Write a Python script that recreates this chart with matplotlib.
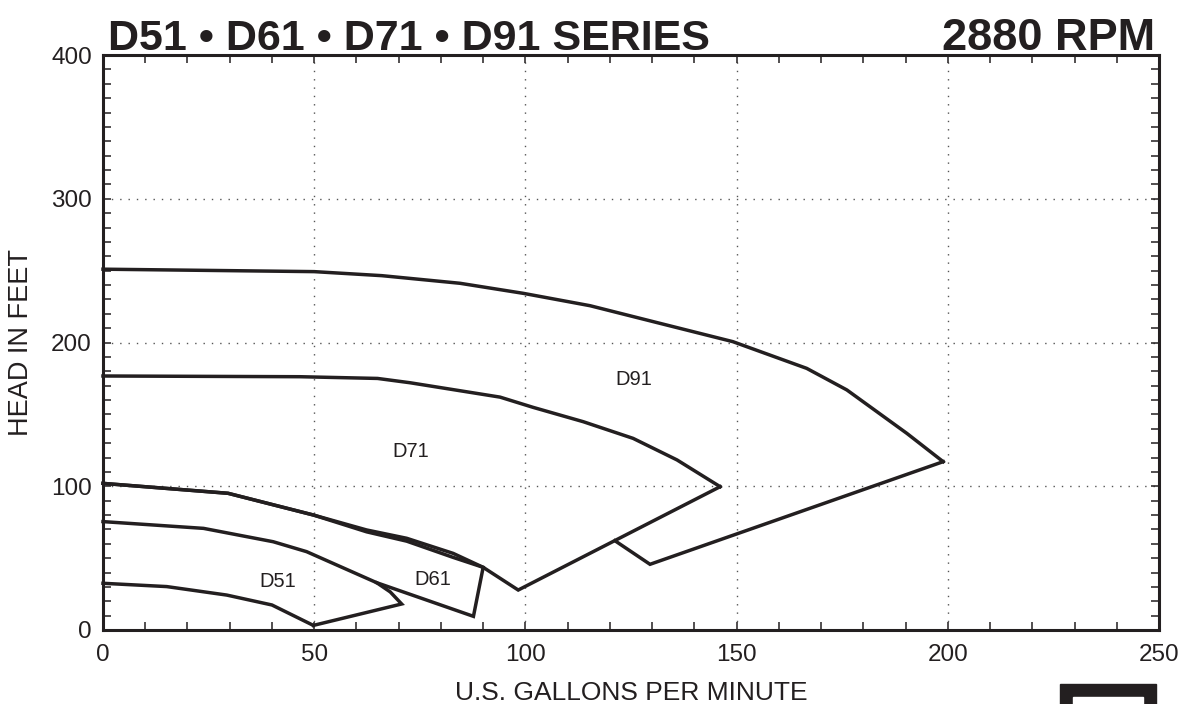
import matplotlib
matplotlib.use("Agg")
import matplotlib.pyplot as plt
from matplotlib.patches import Rectangle

plt.rcParams['font.family'] = ['Liberation Sans', 'DejaVu Sans']

INK = '#231f20'

# ---- data (gpm, head in feet) ----
d91_top_gpm = [0, 50, 66, 84.5, 99.5, 115.3, 131.9, 149.1, 166.6, 176.1, 190.3, 198.9]
d91_top_head = [251, 249.3, 246.5, 241.2, 234.2, 225.6, 213.3, 200.6, 182, 167, 136.8, 117.1]
d91_ret_gpm = [198.9, 129.5, 121.2]
d91_ret_head = [117.1, 45.7, 62.1]

d71_top_gpm = [0, 46.6, 65, 72.7, 94, 101.8, 113.7, 125.5, 135.9, 146.1]
d71_top_head = [176.7, 176.2, 175, 172, 162, 154.9, 144.9, 133.3, 118.3, 99.7]
d71_ret_gpm = [146.1, 98.3, 90, 82.9, 71.9, 62.4, 49.8, 29.6, 0]
d71_ret_head = [99.7, 27.8, 43.6, 53.3, 63.8, 69.6, 80, 95.1, 102]

d61_gpm = [0, 29.6, 49.8, 62.4, 71.9, 82.9, 90, 87.7, 64.8]
d61_head = [102, 95.1, 80, 68.3, 61.8, 50.5, 43.6, 9.5, 32.9]

d51_top_gpm = [0, 23.8, 40.3, 48.2, 64.8, 68, 70.7, 49.8]
d51_top_head = [75.4, 70.7, 61.4, 54.5, 32.9, 26.5, 18.1, 3.2]
d51_bot_gpm = [49.8, 40, 29.3, 15.1, 0]
d51_bot_head = [3.2, 17.4, 24.3, 30.2, 32.5]

labels = ['D51', 'D61', 'D71', 'D91']
label_gpm = [41.4, 78.1, 72.9, 125.7]
label_head = [34, 34.8, 124.5, 174.6]

x_ticks = [0, 50, 100, 150, 200, 250]
y_ticks = [0, 100, 200, 300, 400]

title_left = 'D51 • D61 • D71 • D91 SERIES'
title_right = '2880 RPM'
x_label = 'U.S. GALLONS PER MINUTE'
y_label = 'HEAD IN FEET'

# ---- figure ----
fig = plt.figure(figsize=(11.84, 7.04), dpi=100)
ax = fig.add_axes([103/1184, 1-630/704, (1159-103)/1184, (630-55)/704])

lw = 2.5
for gx, gy in [(d91_top_gpm, d91_top_head), (d91_ret_gpm, d91_ret_head),
               (d71_top_gpm, d71_top_head), (d71_ret_gpm, d71_ret_head),
               (d61_gpm, d61_head),
               (d51_top_gpm, d51_top_head), (d51_bot_gpm, d51_bot_head)]:
    ax.plot(gx, gy, color=INK, lw=lw, solid_joinstyle='miter', clip_on=False, zorder=3)

for t, gx, gy in zip(labels, label_gpm, label_head):
    ax.text(gx, gy, t, fontsize=14.5, color=INK, ha='center', va='center', zorder=4)

ax.set_xlim(0, 250)
ax.set_ylim(0, 400)
ax.set_xticks(x_ticks)
ax.set_yticks(y_ticks)
ax.set_xticks(range(0, 251, 10), minor=True)
ax.set_yticks(range(0, 401, 10), minor=True)
ax.tick_params(which='both', direction='in', top=True, right=True, color=INK,
               labelsize=17.5, labelcolor=INK)
ax.tick_params(which='major', length=6, width=1.1)
ax.tick_params(which='minor', length=6, width=1.1)
ax.tick_params(axis='x', which='major', pad=10)
ax.tick_params(axis='y', which='major', pad=8)

for gx in x_ticks[1:-1]:
    ax.axvline(gx, color='#555555', lw=1.0, ls=(0, (1, 5)), zorder=1)
for gy in y_ticks[1:-1]:
    ax.axhline(gy, color='#555555', lw=1.0, ls=(0, (1, 5)), zorder=1)

for s in ax.spines.values():
    s.set_linewidth(2.2)
    s.set_color(INK)

ax.set_xlabel(x_label, fontsize=19, color=INK, labelpad=11)
ax.set_ylabel(y_label, fontsize=19.5, color=INK, labelpad=12)

fig.text(108/1184, 1-50/704, title_left, fontsize=31, fontweight='bold',
         color=INK, ha='left', va='baseline')
fig.text(1155/1184, 1-50/704, title_right, fontsize=32.5, fontweight='bold',
         color=INK, ha='right', va='baseline')

# decorative black frame at bottom right
fig.patches.append(Rectangle((1060/1184, 0), 96/1184, 20/704,
                             transform=fig.transFigure, color=INK, zorder=5))
fig.patches.append(Rectangle((1073/1184, 0), 70/1184, 7/704,
                             transform=fig.transFigure, color='white', zorder=6))

fig.savefig('out.png', dpi=100)
